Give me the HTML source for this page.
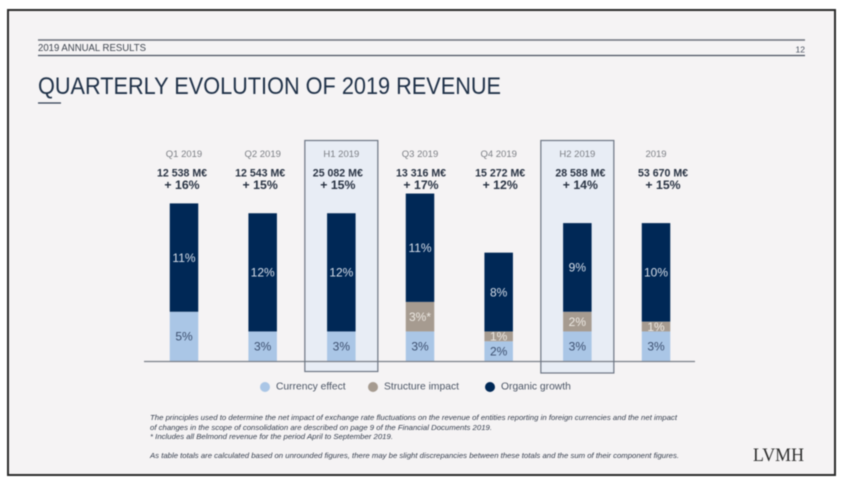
<!DOCTYPE html>
<html>
<head>
<meta charset="utf-8">
<style>
html,body{margin:0;padding:0;background:#fff;width:842px;height:483px;overflow:hidden}
svg{display:block;filter:blur(0.45px)}
text{font-family:"Liberation Sans",sans-serif}
</style>
</head>
<body>
<svg id="chart" width="842" height="483" viewBox="0 0 842 483" xmlns="http://www.w3.org/2000/svg">
  <rect x="8" y="10" width="827" height="465" fill="#f5f3f4" stroke="#2b2b2b" stroke-width="2"/>
  <line x1="38" x2="805" y1="40" y2="40" stroke="#6d727c" stroke-width="1.5"/>
  <line x1="38" x2="805" y1="55.5" y2="55.5" stroke="#4a5260" stroke-width="1.2"/>
  <text x="38" y="51" font-size="10" fill="#3f4650" textLength="108" lengthAdjust="spacingAndGlyphs">2019 ANNUAL RESULTS</text>
  <text x="805" y="52.5" font-size="8.5" fill="#4a5260" text-anchor="end">12</text>
  <text x="38" y="94" font-size="24.5" fill="#1f3148" textLength="463" lengthAdjust="spacingAndGlyphs">QUARTERLY EVOLUTION OF 2019 REVENUE</text>
  <line x1="38" x2="61" y1="103" y2="103" stroke="#2f3d52" stroke-width="1.3"/>
  <g id="boxes"></g>
  <g id="bars"></g>
  <line x1="144" x2="695" y1="361.5" y2="361.5" stroke="#7a7f88" stroke-width="1.2"/>
  <g id="heads"></g>
  <g id="outlines"></g>
  <g id="legend"></g>
  <g font-size="7" font-style="italic" fill="#333c4c">
    <text x="150" y="420" textLength="527" lengthAdjust="spacingAndGlyphs">The principles used to determine the net impact of exchange rate fluctuations on the revenue of entities reporting in foreign currencies and the net impact</text>
    <text x="150" y="430" textLength="342" lengthAdjust="spacingAndGlyphs">of changes in the scope of consolidation are described on page 9 of the Financial Documents 2019.</text>
    <text x="150" y="439" textLength="243" lengthAdjust="spacingAndGlyphs">* Includes all Belmond revenue for the period April to September 2019.</text>
    <text x="150" y="458" textLength="529" lengthAdjust="spacingAndGlyphs">As table totals are calculated based on unrounded figures, there may be slight discrepancies between these totals and the sum of their component figures.</text>
  </g>
  <text x="753" y="461" font-size="18.5" fill="#2e2e2e" textLength="51" lengthAdjust="spacingAndGlyphs" style="font-family:'Liberation Serif',serif">LVMH</text>
</svg>
<script>
const categories = ['Q1 2019', 'Q2 2019', 'H1 2019', 'Q3 2019', 'Q4 2019', 'H2 2019', '2019'];
const revenues = ['12 538 M€', '12 543 M€', '25 082 M€', '13 316 M€', '15 272 M€', '28 588 M€', '53 670 M€'];
const growthTotals = ['+ 16%', '+ 15%', '+ 15%', '+ 17%', '+ 12%', '+ 14%', '+ 15%'];
const currencyEffect = [5, 3, 3, 3, 2, 3, 3];
const structureImpact = [0, 0, 0, 3, 1, 2, 1];
const organicGrowth = [11, 12, 12, 11, 8, 9, 10];
const structureNotes = ['', '', '', '*', '', '', ''];
const highlighted = ['H1 2019', 'H2 2019'];
const legendLabels = ['Currency effect', 'Structure impact', 'Organic growth'];

const NS = 'http://www.w3.org/2000/svg';
const xScale = i => 184 + i * 78.67;
const yScale = v => 361 - v * 9.85;
const BAR_W = 28.5;
const headNudge = [-2, -2.5, -3.5, 1, 1.5, 3, 7];

function make(parent, tag, attrs, txt) {
  const el = document.createElementNS(NS, tag);
  for (const k in attrs) el.setAttribute(k, attrs[k]);
  if (txt !== undefined) el.textContent = txt;
  document.getElementById(parent).appendChild(el);
  return el;
}

const seriesDefs = [
  {key: 'currency', values: currencyEffect, fill: '#aac6e6', label: '#3d5070'},
  {key: 'structure', values: structureImpact, fill: '#a69b90', label: '#ece8e2'},
  {key: 'organic', values: organicGrowth, fill: '#002856', label: '#d5dde8'}
];

categories.forEach((cat, i) => {
  const cx = xScale(i);
  const slug = cat.toLowerCase().replace(' ', '-');
  if (highlighted.includes(cat)) {
    const bg = make('boxes', 'rect', {x: cx - 36.5, y: 140.5, width: 73, height: 231 + (cat === 'H2 2019' ? 1.5 : 0), fill: '#e8edf5'});
    
    
    const ol = make('outlines', 'rect', {x: cx - 36.5, y: 140.5, width: 73, height: 231 + (cat === 'H2 2019' ? 1.5 : 0), fill: 'none', stroke: '#6d7684', 'stroke-width': 1.2});
    
    
  }
  let base = 0;
  seriesDefs.forEach(s => {
    const v = s.values[i];
    if (!v) return;
    const y0 = yScale(base), y1 = yScale(base + v);
    const r = make('bars', 'rect', {x: cx - BAR_W / 2, y: y1, width: BAR_W, height: y0 - y1, fill: s.fill});
    
    
    const note = s.key === 'structure' ? structureNotes[i] : '';
    const t = make('bars', 'text', {x: cx, y: (y0 + y1) / 2 + 4.3, 'font-size': 12, 'text-anchor': 'middle', fill: s.label}, v + '%' + note);
    
    
    base += v;
  });
  const h = make('heads', 'text', {x: cx, y: 157, 'font-size': 9.5, 'text-anchor': 'middle', fill: '#7c7f85'}, cat);
  
  
  const rv = make('heads', 'text', {x: cx + headNudge[i], y: 176.5, 'font-size': 10.6, 'font-weight': 'bold', 'text-anchor': 'middle', fill: '#2a3444'}, revenues[i]);
  
  
  const g = make('heads', 'text', {x: cx + headNudge[i], y: 189, 'font-size': 12.3, 'font-weight': 'bold', 'text-anchor': 'middle', fill: '#2a3444'}, growthTotals[i]);
  
  
});

const legendDotX = [265, 373, 490];
legendLabels.forEach((lab, i) => {
  const c = make('legend', 'circle', {cx: legendDotX[i], cy: 387, r: 5, fill: seriesDefs[i].fill});
  
  
  const t = make('legend', 'text', {x: legendDotX[i] + 11, y: 389.5, 'font-size': 10.3, fill: '#4b5565'}, lab);
  
  
});
</script>
</body>
</html>
